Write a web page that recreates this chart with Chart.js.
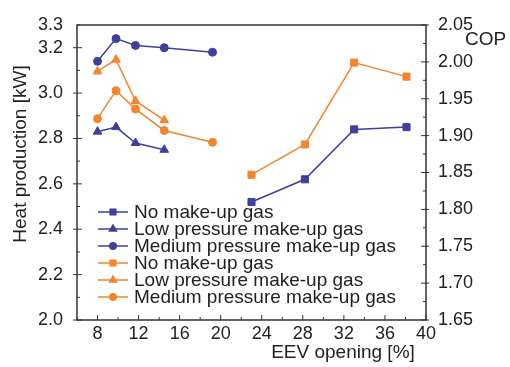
<!DOCTYPE html>
<html>
<head>
<meta charset="utf-8">
<script src="https://cdn.jsdelivr.net/npm/chart.js@4/dist/chart.umd.min.js"></script>
<style>
  html, body { margin: 0; padding: 0; background: #fff; }
  #wrap { width: 510px; height: 367px; }
</style>
</head>
<body>
<div id="wrap"><canvas id="chart" width="510" height="367"></canvas></div>
<script>
// ─── DATA ────────────────────────────────────────────────────────────────
const xLeft = [8, 9.8, 11.7, 14.5, 19.2];
const xLeftShort = [8, 9.8, 11.7, 14.5];
const xRight = [23, 28.2, 33, 38.1];

// heat production [kW] (left axis)
const heatNoMakeup = [2.52, 2.62, 2.84, 2.85];
const heatLowPressure = [2.83, 2.85, 2.78, 2.75];
const heatMediumPressure = [3.14, 3.24, 3.21, 3.20, 3.18];

// COP (right axis)
const copNoMakeup = [1.847, 1.888, 1.999, 1.980];
const copLowPressure = [1.987, 2.003, 1.947, 1.921];
const copMediumPressure = [1.923, 1.961, 1.936, 1.907, 1.891];

const xTicks = [8, 12, 16, 20, 24, 28, 32, 36, 40];
const heatTicks = [2.0, 2.2, 2.4, 2.6, 2.8, 3.0, 3.2, 3.3];
const copTicks = [1.65, 1.70, 1.75, 1.80, 1.85, 1.90, 1.95, 2.00, 2.05];

const seriesLabels = ['No make-up gas', 'Low pressure make-up gas', 'Medium pressure make-up gas'];

const BLUE = '#3f3f9c';
const ORANGE = '#f2852d';
const FONT = '"Liberation Sans", Arial, sans-serif';
const AXIS = '#333';

function pts(xs, ys) {
  return xs.map((x, i) => ({ x, y: ys[i] }));
}

function ds(label, data, color, style, axis, r) {
  return {
    label, data, yAxisID: axis,
    borderColor: color, backgroundColor: color,
    pointBackgroundColor: color, pointBorderColor: color,
    pointStyle: style, pointRadius: r, pointBorderWidth: 1,
    borderWidth: 1.5, showLine: true, fill: false, tension: 0
  };
}

const datasets = [
  ds(seriesLabels[0], pts(xRight, heatNoMakeup), BLUE, 'rect', 'y', 5),
  ds(seriesLabels[1], pts(xLeftShort, heatLowPressure), BLUE, 'triangle', 'y', 5),
  ds(seriesLabels[2], pts(xLeft, heatMediumPressure), BLUE, 'circle', 'y', 4),
  ds(seriesLabels[0], pts(xRight, copNoMakeup), ORANGE, 'rect', 'y1', 5),
  ds(seriesLabels[1], pts(xLeftShort, copLowPressure), ORANGE, 'triangle', 'y1', 5),
  ds(seriesLabels[2], pts(xLeft, copMediumPressure), ORANGE, 'circle', 'y1', 4)
];

// frame, inside ticks, titles and legend drawn on the canvas
const decorations = {
  id: 'decorations',
  afterDatasetsDraw(chart) {
    const { ctx, chartArea: a, scales } = chart;
    ctx.save();
    ctx.strokeStyle = AXIS;
    ctx.lineWidth = 1.5;
    ctx.strokeRect(a.left, a.top, a.right - a.left, a.bottom - a.top);

    ctx.lineWidth = 1;
    ctx.beginPath();
    // x ticks (major + minor), pointing up
    for (let v = 6; v <= 40; v += 2) {
      const px = scales.x.getPixelForValue(v);
      const len = v % 4 === 0 ? 5 : 3;
      ctx.moveTo(px, a.bottom); ctx.lineTo(px, a.bottom - len);
    }
    // left ticks
    for (let v = 2.0; v <= 3.3001; v += 0.1) {
      const py = scales.y.getPixelForValue(v);
      const major = Math.round(v * 10) % 2 === 0;
      ctx.moveTo(a.left, py); ctx.lineTo(a.left + (major ? 5 : 3), py);
      if (major) { ctx.moveTo(a.left, py); ctx.lineTo(a.left - 4, py); }
    }
    // right ticks
    for (let i = 0; i <= 16; i++) {
      const v = 1.65 + i * 0.025;
      const py = scales.y1.getPixelForValue(v);
      const major = i % 2 === 0;
      ctx.moveTo(a.right, py); ctx.lineTo(a.right - (major ? 5 : 3), py);
      if (major) { ctx.moveTo(a.right, py); ctx.lineTo(a.right + 3, py); }
    }
    ctx.stroke();

    // axis titles
    ctx.fillStyle = '#222';
    ctx.font = '19px ' + FONT;
    ctx.textBaseline = 'middle';
    ctx.textAlign = 'center';
    ctx.fillText('EEV opening [%]', 343, 353);
    ctx.textAlign = 'left';
    ctx.fillText('COP', 465, 40);
    ctx.save();
    ctx.translate(21, 154);
    ctx.rotate(-Math.PI / 2);
    ctx.textAlign = 'center';
    ctx.fillText('Heat production [kW]', 0, 0);
    ctx.restore();

    // legend
    chart.data.datasets.forEach((d, i) => {
      const y = 212 + i * 17;
      ctx.strokeStyle = d.borderColor;
      ctx.lineWidth = 1.5;
      ctx.beginPath();
      ctx.moveTo(98, y); ctx.lineTo(128, y);
      ctx.stroke();
      ctx.fillStyle = d.borderColor;
      Chart.helpers.drawPoint(ctx, {
        pointStyle: d.pointStyle, radius: d.pointStyle === 'circle' ? 3.2 : 4, rotation: 0, borderWidth: 1
      }, 113, y);
      ctx.fillStyle = '#222';
      ctx.font = '19px ' + FONT;
      ctx.textAlign = 'left';
      ctx.fillText(d.label, 134, y + 1);
    });
    ctx.restore();
  }
};

const tickFont = { family: FONT, size: 18 };

new Chart(document.getElementById('chart'), {
  type: 'scatter',
  data: { datasets },
  options: {
    responsive: false,
    animation: false,
    layout: { padding: { top: 25, left: 0, right: 0, bottom: 0 } },
    plugins: { legend: { display: false }, tooltip: { enabled: false } },
    scales: {
      x: {
        type: 'linear', min: 6, max: 40,
        afterBuildTicks: s => { s.ticks = xTicks.map(v => ({ value: v })); },
        afterFit: s => { s.height = 47; },
        grid: { display: false },
        border: { display: false },
        ticks: { color: '#222', font: tickFont, padding: -5, maxRotation: 0 }
      },
      y: {
        position: 'left', min: 2.0, max: 3.3,
        afterBuildTicks: s => { s.ticks = heatTicks.map(v => ({ value: v })); },
        afterFit: s => { s.width = 77; },
        grid: { display: false },
        border: { display: false },
        ticks: { color: '#222', font: tickFont, padding: 6, callback: v => v.toFixed(1) }
      },
      y1: {
        position: 'right', min: 1.65, max: 2.05,
        afterBuildTicks: s => { s.ticks = copTicks.map(v => ({ value: v })); },
        afterFit: s => { s.width = 84; },
        grid: { display: false },
        border: { display: false },
        ticks: { color: '#222', font: tickFont, padding: 4, callback: v => v.toFixed(2) }
      }
    }
  },
  plugins: [decorations]
});
</script>
</body>
</html>
